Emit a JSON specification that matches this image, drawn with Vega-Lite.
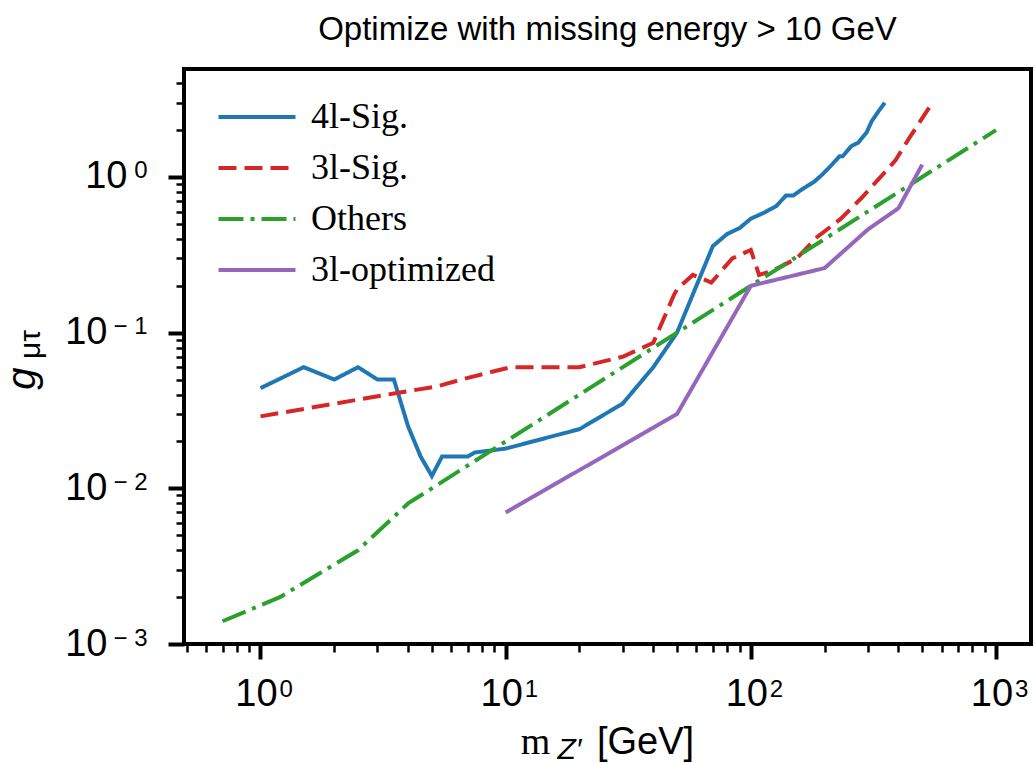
{
  "$schema": "https://vega.github.io/schema/vega-lite/v6.json",
  "width": 847,
  "height": 575,
  "autosize": {"type": "none"},
  "padding": {"left": 184, "top": 69, "right": 3, "bottom": 119},
  "background": "white",
  "title": {"text": "Optimize with missing energy > 10 GeV", "font": "Liberation Sans", "fontSize": 33, "fontWeight": "normal", "color": "black", "anchor": "middle", "frame": "group", "offset": -4, "baseline": "alphabetic"},
  "config": {"view": {"stroke": "black", "strokeWidth": 4}},
  "data": {"values": [
    {"series": "4l-Sig.", "mass": 1, "coupling": 0.044},
    {"series": "4l-Sig.", "mass": 1.5, "coupling": 0.06},
    {"series": "4l-Sig.", "mass": 2, "coupling": 0.05},
    {"series": "4l-Sig.", "mass": 2.5, "coupling": 0.06},
    {"series": "4l-Sig.", "mass": 3, "coupling": 0.05},
    {"series": "4l-Sig.", "mass": 3.5, "coupling": 0.05},
    {"series": "4l-Sig.", "mass": 4, "coupling": 0.025},
    {"series": "4l-Sig.", "mass": 4.5, "coupling": 0.016},
    {"series": "4l-Sig.", "mass": 5, "coupling": 0.012},
    {"series": "4l-Sig.", "mass": 5.5, "coupling": 0.016},
    {"series": "4l-Sig.", "mass": 7, "coupling": 0.016},
    {"series": "4l-Sig.", "mass": 7.5, "coupling": 0.017},
    {"series": "4l-Sig.", "mass": 10, "coupling": 0.018},
    {"series": "4l-Sig.", "mass": 20, "coupling": 0.024},
    {"series": "4l-Sig.", "mass": 30, "coupling": 0.035},
    {"series": "4l-Sig.", "mass": 40, "coupling": 0.06},
    {"series": "4l-Sig.", "mass": 50, "coupling": 0.1},
    {"series": "4l-Sig.", "mass": 70, "coupling": 0.36},
    {"series": "4l-Sig.", "mass": 80, "coupling": 0.43},
    {"series": "4l-Sig.", "mass": 90, "coupling": 0.47},
    {"series": "4l-Sig.", "mass": 100, "coupling": 0.54},
    {"series": "4l-Sig.", "mass": 112, "coupling": 0.585},
    {"series": "4l-Sig.", "mass": 127, "coupling": 0.65},
    {"series": "4l-Sig.", "mass": 139, "coupling": 0.76},
    {"series": "4l-Sig.", "mass": 149, "coupling": 0.76},
    {"series": "4l-Sig.", "mass": 161, "coupling": 0.83},
    {"series": "4l-Sig.", "mass": 181, "coupling": 0.93},
    {"series": "4l-Sig.", "mass": 196, "coupling": 1.04},
    {"series": "4l-Sig.", "mass": 212, "coupling": 1.18},
    {"series": "4l-Sig.", "mass": 230, "coupling": 1.36},
    {"series": "4l-Sig.", "mass": 237, "coupling": 1.36},
    {"series": "4l-Sig.", "mass": 257, "coupling": 1.58},
    {"series": "4l-Sig.", "mass": 274, "coupling": 1.66},
    {"series": "4l-Sig.", "mass": 297, "coupling": 1.94},
    {"series": "4l-Sig.", "mass": 311, "coupling": 2.28},
    {"series": "4l-Sig.", "mass": 332, "coupling": 2.65},
    {"series": "4l-Sig.", "mass": 352, "coupling": 3.0},
    {"series": "3l-Sig.", "mass": 1, "coupling": 0.029},
    {"series": "3l-Sig.", "mass": 3.6, "coupling": 0.041},
    {"series": "3l-Sig.", "mass": 5.2, "coupling": 0.045},
    {"series": "3l-Sig.", "mass": 6.6, "coupling": 0.05},
    {"series": "3l-Sig.", "mass": 9.6, "coupling": 0.058},
    {"series": "3l-Sig.", "mass": 10.5, "coupling": 0.06},
    {"series": "3l-Sig.", "mass": 20, "coupling": 0.06},
    {"series": "3l-Sig.", "mass": 30, "coupling": 0.07},
    {"series": "3l-Sig.", "mass": 40, "coupling": 0.086},
    {"series": "3l-Sig.", "mass": 48.6, "coupling": 0.175},
    {"series": "3l-Sig.", "mass": 50, "coupling": 0.19},
    {"series": "3l-Sig.", "mass": 58, "coupling": 0.235},
    {"series": "3l-Sig.", "mass": 69, "coupling": 0.21},
    {"series": "3l-Sig.", "mass": 84, "coupling": 0.3},
    {"series": "3l-Sig.", "mass": 92, "coupling": 0.32},
    {"series": "3l-Sig.", "mass": 100, "coupling": 0.34},
    {"series": "3l-Sig.", "mass": 108, "coupling": 0.235},
    {"series": "3l-Sig.", "mass": 123, "coupling": 0.25},
    {"series": "3l-Sig.", "mass": 154, "coupling": 0.3},
    {"series": "3l-Sig.", "mass": 186, "coupling": 0.41},
    {"series": "3l-Sig.", "mass": 233, "coupling": 0.54},
    {"series": "3l-Sig.", "mass": 282, "coupling": 0.73},
    {"series": "3l-Sig.", "mass": 342, "coupling": 1.02},
    {"series": "3l-Sig.", "mass": 389, "coupling": 1.28},
    {"series": "3l-Sig.", "mass": 442, "coupling": 1.77},
    {"series": "3l-Sig.", "mass": 550, "coupling": 3.0},
    {"series": "Others", "mass": 0.7, "coupling": 0.0014},
    {"series": "Others", "mass": 1.2, "coupling": 0.002},
    {"series": "Others", "mass": 2.5, "coupling": 0.004},
    {"series": "Others", "mass": 4, "coupling": 0.008},
    {"series": "Others", "mass": 5, "coupling": 0.01},
    {"series": "Others", "mass": 10, "coupling": 0.02},
    {"series": "Others", "mass": 100, "coupling": 0.2},
    {"series": "Others", "mass": 1000, "coupling": 2.0},
    {"series": "3l-optimized", "mass": 10, "coupling": 0.007},
    {"series": "3l-optimized", "mass": 50, "coupling": 0.03},
    {"series": "3l-optimized", "mass": 100, "coupling": 0.2},
    {"series": "3l-optimized", "mass": 200, "coupling": 0.26},
    {"series": "3l-optimized", "mass": 300, "coupling": 0.46},
    {"series": "3l-optimized", "mass": 400, "coupling": 0.63},
    {"series": "3l-optimized", "mass": 500, "coupling": 1.2}
  ]},
  "resolve": {"axis": {"x": "independent", "y": "independent"}, "scale": {"x": "shared", "y": "shared"}},
  "layer": [
    {
      "mark": {"type": "line", "strokeWidth": 4, "clip": true},
      "encoding": {
        "x": {"field": "mass", "type": "quantitative",
          "scale": {"type": "log", "domain": [0.4875, 1389], "nice": false},
          "axis": {"orient": "bottom", "values": [1, 10, 100, 1000],
            "labelExpr": "'10'",
            "tickSize": 15, "tickWidth": 4, "tickColor": "black", "domain": false, "grid": false,
            "labelFont": "Liberation Sans", "labelFontSize": 38, "labelColor": "black", "labelPadding": 16, "labelOffset": -4.5, "labelAlign": "center", "labelFlush": false, "labelOverlap": false,
            "title": "[GeV]", "titleFont": "Liberation Sans", "titleFontSize": 38, "titleFontWeight": "normal", "titleColor": "black",
            "titleX": 461, "titleY": 109, "titleBaseline": "alphabetic", "titleAlign": "center"}},
        "y": {"field": "coupling", "type": "quantitative",
          "scale": {"type": "log", "domain": [0.001, 4.94], "nice": false},
          "axis": {"orient": "left", "values": [0.001, 0.01, 0.1, 1],
            "labelExpr": "'10'",
            "tickSize": 16, "tickWidth": 4, "tickColor": "black", "domain": false, "grid": false,
            "labelFont": "Liberation Sans", "labelFontSize": 38, "labelColor": "black",
            "labelPadding": {"condition": {"test": "datum.value == 1", "value": 41}, "value": 61},
            "labelFlush": false, "labelOverlap": false,
            "title": "g", "titleFont": "Liberation Sans", "titleFontStyle": "italic", "titleFontSize": 40, "titleFontWeight": "normal", "titleColor": "black",
            "titleX": -150, "titleY": 309, "titleAngle": 270, "titleBaseline": "alphabetic", "titleAlign": "center"}},
        "color": {"field": "series", "type": "nominal",
          "scale": {"domain": ["4l-Sig.", "3l-Sig.", "Others", "3l-optimized"], "range": ["#1f77b4", "#d62728", "#2ca02c", "#9467bd"]},
          "legend": {"orient": "none", "legendX": 55, "legendY": 30, "title": null, "symbolType": "M-5,0H5", "symbolSize": 237, "symbolStrokeWidth": 4,
            "labelFont": "Liberation Serif", "labelFontSize": 36, "labelColor": "black", "labelOffset": 36, "labelLimit": 400, "rowPadding": 15, "padding": 0}},
        "strokeDash": {"field": "series", "type": "nominal",
          "scale": {"domain": ["4l-Sig.", "3l-Sig.", "Others", "3l-optimized"], "range": [[1, 0], [18, 8], [25, 7, 4, 7], [1, 0]]},
          "legend": {"orient": "none", "legendX": 55, "legendY": 30, "title": null, "symbolType": "M-5,0H5", "symbolSize": 237, "symbolStrokeWidth": 4,
            "labelFont": "Liberation Serif", "labelFontSize": 36, "labelColor": "black", "labelOffset": 36, "labelLimit": 400, "rowPadding": 15, "padding": 0}}
      }
    },
    {
      "mark": {"type": "point", "opacity": 0},
      "encoding": {
        "x": {"field": "mass", "type": "quantitative",
          "scale": {"type": "log", "domain": [0.4875, 1389], "nice": false},
          "axis": {"orient": "bottom", "values": [0.5, 0.6, 0.7, 0.8, 0.9, 2, 3, 4, 5, 6, 7, 8, 9, 20, 30, 40, 50, 60, 70, 80, 90, 200, 300, 400, 500, 600, 700, 800, 900],
            "tickSize": 8, "tickWidth": 2.5, "tickColor": "black", "labels": false, "domain": false, "grid": false,
            "title": "m", "titleFont": "Liberation Serif", "titleFontSize": 38, "titleFontWeight": "normal", "titleColor": "black",
            "titleX": 351, "titleY": 109, "titleBaseline": "alphabetic", "titleAlign": "center"}},
        "y": {"field": "coupling", "type": "quantitative",
          "scale": {"type": "log", "domain": [0.001, 4.94], "nice": false},
          "axis": {"orient": "left", "values": [0.002, 0.003, 0.004, 0.005, 0.006, 0.007, 0.008, 0.009, 0.02, 0.03, 0.04, 0.05, 0.06, 0.07, 0.08, 0.09, 0.2, 0.3, 0.4, 0.5, 0.6, 0.7, 0.8, 0.9, 2, 3, 4],
            "tickSize": 8, "tickWidth": 2.5, "tickColor": "black", "labels": false, "domain": false, "grid": false,
            "title": "μτ", "titleFont": "Liberation Sans", "titleFontSize": 30, "titleFontWeight": "normal", "titleColor": "black",
            "titleX": -145, "titleY": 275, "titleAngle": 270, "titleBaseline": "alphabetic", "titleAlign": "center"}}
      }
    },
    {
      "mark": {"type": "point", "opacity": 0},
      "encoding": {
        "x": {"field": "mass", "type": "quantitative",
          "scale": {"type": "log", "domain": [0.4875, 1389], "nice": false},
          "axis": {"orient": "bottom", "values": [1, 10, 100, 1000], "ticks": false, "tickSize": 0, "domain": false, "grid": false,
            "labelExpr": "replace('' + round(log(datum.value)/LN10), '-', '− ')",
            "labelFont": "Liberation Sans", "labelFontSize": 24, "labelColor": "black", "labelPadding": 33, "labelOffset": 18.5, "labelAlign": "left", "labelFlush": false, "labelOverlap": false,
            "title": "Z′", "titleFont": "Liberation Sans", "titleFontStyle": "italic", "titleFontSize": 30, "titleFontWeight": "normal", "titleColor": "black",
            "titleX": 385, "titleY": 114, "titleBaseline": "alphabetic", "titleAlign": "center"}},
        "y": {"field": "coupling", "type": "quantitative",
          "scale": {"type": "log", "domain": [0.001, 4.94], "nice": false},
          "axis": {"orient": "left", "values": [0.001, 0.01, 0.1, 1], "ticks": false, "tickSize": 0, "domain": false, "grid": false,
            "labelExpr": "replace('' + round(log(datum.value)/LN10), '-', '− ')",
            "labelFont": "Liberation Sans", "labelFontSize": 24, "labelColor": "black", "labelPadding": 37, "labelOffset": -6, "labelAlign": "right", "labelFlush": false, "labelOverlap": false,
            "title": null}}
      }
    }
  ]
}
